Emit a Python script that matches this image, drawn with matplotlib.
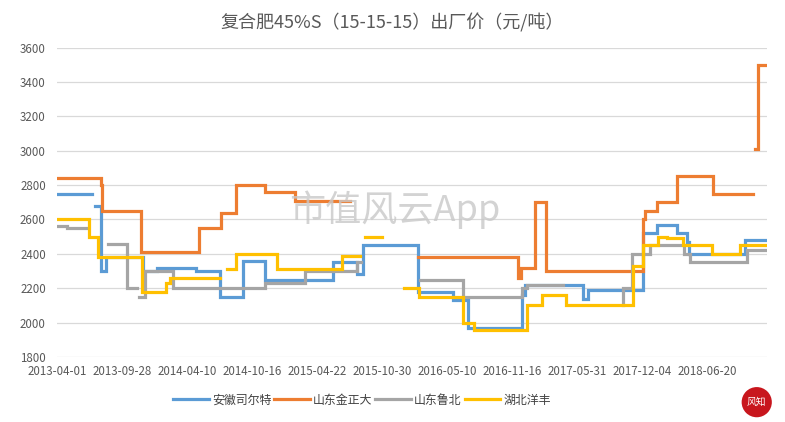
import numpy as np
import matplotlib
matplotlib.use("Agg")
import matplotlib.pyplot as plt

plt.rcParams['font.family'] = ['Noto Sans CJK SC', 'DejaVu Sans']

# category axis labels (one label every fixed number of categories)
tick_labels = ['2013-04-01', '2013-09-28', '2014-04-10', '2014-10-16', '2015-04-22',
               '2015-10-30', '2016-05-10', '2016-11-16', '2017-05-31', '2017-12-04',
               '2018-06-20']

nan = np.nan
# step series: breakpoints on the category axis (in label-interval units) and the
# price held from each breakpoint to the next; nan = no data
anhui_x = [0.0, 0.54, 0.585, 0.68, 0.75, 1.32, 1.54, 2.14, 2.51, 2.86, 3.2, 4.25, 4.62, 4.71,
           5.55, 6.09, 6.32, 7.15, 7.2, 8.09, 8.17, 9.02, 9.23, 9.54, 9.69, 9.72, 10.58, 10.89]
anhui_y = [2750, nan, 2680, 2300, 2380, 2300, 2320, 2300, 2150, 2360, 2250, 2350, 2280,
           2450, 2180, 2130, 1970, 2160, 2220, 2140, 2190, 2520, 2570, 2520, 2470, 2400, 2480]

jzd_x = [0.0, 0.68, 0.69, 1.29, 2.18, 2.52, 2.75, 3.2, 3.66, 4.51, 5.55, 7.09, 7.14, 7.35,
         7.52, 9.02, 9.05, 9.23, 9.54, 10.09, 10.71, 10.74, 10.78, 10.91]
jzd_y = [2840, 2800, 2650, 2410, 2550, 2640, 2800, 2760, 2710, nan, 2380, 2260, 2320, 2700,
         2300, 2600, 2650, 2700, 2850, 2750, nan, 3010, 3500]

lubei_x = [0.0, 0.15, 0.46, 0.78, 1.08, 1.23, 1.26, 1.35, 1.78, 3.2, 3.82, 4.62, 4.68,
           5.58, 6.25, 7.15, 7.23, 7.78, 8.70, 8.71, 8.85, 9.12, 9.65, 9.74, 10.62, 10.91]
lubei_y = [2560, 2550, nan, 2460, 2200, nan, 2150, 2300, 2200, 2230, 2300, 2350, nan,
           2250, 2150, 2200, 2220, nan, 2100, 2200, 2400, 2450, 2400, 2350, 2420]

yangfeng_x = [0.0, 0.5, 0.63, 1.30, 1.68, 1.74, 2.51, 2.62, 2.75, 3.38, 4.38, 4.66, 4.74,
              5.0, 5.34, 5.57, 6.25, 6.42, 7.23, 7.46, 7.83, 8.86, 9.02, 9.25, 9.38, 9.63,
              10.08, 10.51, 10.91]
yangfeng_y = [2600, 2500, 2380, 2180, 2230, 2260, nan, 2310, 2400, 2310, 2390, nan, 2500,
              nan, 2200, 2150, 2000, 1960, 2100, 2160, 2100, 2330, 2450, 2500, 2490, 2450,
              2400, 2450]

series = [
    ('安徽司尔特', anhui_x, anhui_y, '#5B9BD5'),
    ('山东金正大', jzd_x, jzd_y, '#ED7D31'),
    ('山东鲁北', lubei_x, lubei_y, '#A5A5A5'),
    ('湖北洋丰', yangfeng_x, yangfeng_y, '#FFC000'),
]

fig = plt.figure(figsize=(7.85, 4.22), dpi=100)
ax = fig.add_axes([0.0726, 0.154, 0.9044, 0.7334])

for name, xs, ys, c in series:
    ys_full = np.append(np.array(ys, dtype=float), ys[-1])
    ax.plot(xs, ys_full, drawstyle='steps-post', color=c, lw=2.3, label=name,
            solid_joinstyle='miter')

ax.set_xlim(0, 10.92)
ax.set_ylim(1800, 3600)
ax.set_yticks(np.arange(1800, 3601, 200))
ax.set_xticks(np.arange(len(tick_labels)))
ax.set_xticklabels(tick_labels)
ax.grid(axis='y', color='#d9d9d9', lw=0.9)
ax.set_axisbelow(True)
for s in ax.spines.values():
    s.set_visible(False)
ax.tick_params(length=0, labelsize=8.3, colors='#595959', pad=6)
ax.tick_params(axis='y', pad=8)

fig.text(0.5, 0.945, '复合肥45%S（15-15-15）出厂价（元/吨）', ha='center', va='center',
         fontsize=13, color='#595959')

# watermark
fig.text(0.503, 0.502, '市值风云App', ha='center', va='center', fontsize=26,
         color='#c8c8c8', alpha=0.8, zorder=5)

leg = fig.legend(loc='center', bbox_to_anchor=(0.461, 0.052), ncol=4, frameon=False,
                 fontsize=8.6, handlelength=3.0, handletextpad=0.25, columnspacing=0.25)
for t in leg.get_texts():
    t.set_color('#404040')

# logo
fig.text(0.964, 0.047, '风知', ha='center', va='center', fontsize=7, color='white',
         bbox=dict(boxstyle='circle,pad=0.55', fc='#c8161d', ec='none'), zorder=11)

fig.savefig('out.png', dpi=100)
